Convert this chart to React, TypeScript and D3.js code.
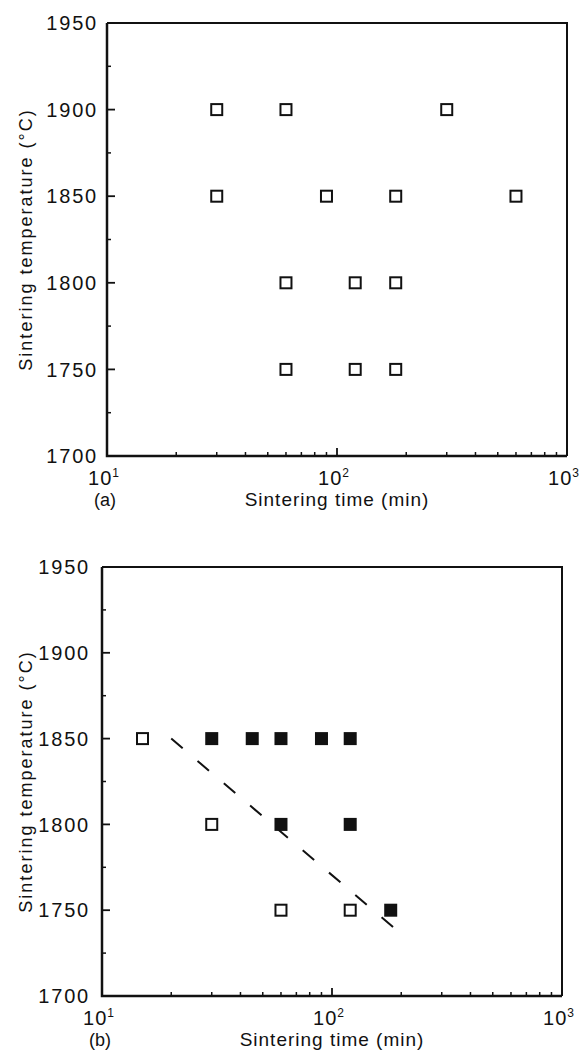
import React from 'react';
import * as d3 from 'd3';

// panel (a): all open squares
const timesA = [30, 60, 300, 30, 90, 180, 600, 60, 120, 180, 60, 120, 180];
const tempsA = [1900, 1900, 1900, 1850, 1850, 1850, 1850, 1800, 1800, 1800, 1750, 1750, 1750];

// panel (b): open + filled squares and a dashed boundary
const openTimesB = [15, 30, 60, 120];
const openTempsB = [1850, 1800, 1750, 1750];
const filledTimesB = [30, 45, 60, 90, 120, 60, 120, 180];
const filledTempsB = [1850, 1850, 1850, 1850, 1850, 1800, 1800, 1750];
const lineTimesB = [20, 185];
const lineTempsB = [1850, 1740];

const yMajor = [1700, 1750, 1800, 1850, 1900, 1950];
const yMinor = [1725, 1775, 1825, 1875, 1925];
const xMajor = [10, 100, 1000];
const xExp = ['1', '2', '3'];

const font = '"Liberation Sans", Arial, sans-serif';

function Panel({ box, label, open, filled, line }) {
    const { left, right, top, bottom, labelGap } = box;
    const x = d3.scaleLog([10, 1000], [left, right]);
    const y = d3.scaleLinear([1700, 1950], [bottom, top]);
    const minor = x.ticks().filter((t) => !xMajor.includes(t));
    const path = line ? d3.line((d, i) => x(line.times[i]), (d) => y(d))(line.temps) : null;
    const cy = (top + bottom) / 2;

    return (
        <g>
            {/* frame */}
            <path d={`M${left},${top}H${right}V${bottom}`} fill="none" stroke="#111" strokeWidth="2" />
            <path d={`M${left},${top}V${bottom}H${right}`} fill="none" stroke="#111" strokeWidth="2.5" />

            {/* y ticks */}
            {yMajor.map((t) => (
                <line key={t} x1={left} x2={left + 8} y1={y(t)} y2={y(t)} stroke="#111" strokeWidth="1.8" />
            ))}
            {yMinor.map((t) => (
                <line key={t} x1={left} x2={left + 4} y1={y(t)} y2={y(t)} stroke="#111" strokeWidth="1.5" />
            ))}
            {yMajor.map((t) => (
                <text key={t} x={left - labelGap} y={y(t)} dy="0.36em" textAnchor="end"
                    fontSize="20" letterSpacing="1.8" fontFamily={font} fill="#111">{t}</text>
            ))}

            {/* x ticks */}
            {xMajor.map((t) => (
                <line key={t} x1={x(t)} x2={x(t)} y1={bottom} y2={bottom - 8} stroke="#111" strokeWidth="1.8" />
            ))}
            {minor.map((t) => (
                <line key={t} x1={x(t)} x2={x(t)} y1={bottom} y2={bottom - 4} stroke="#111" strokeWidth="1.5" />
            ))}
            {xMajor.map((t, i) => (
                <text key={t} x={x(t) - 3} y={bottom + 29} textAnchor="middle"
                    fontSize="20" letterSpacing="1" fontFamily={font} fill="#111">
                    10<tspan fontSize="12" dy="-8">{xExp[i]}</tspan>
                </text>
            ))}

            {/* titles */}
            <text x={(left + right) / 2} y={bottom + 50} textAnchor="middle"
                fontSize="19" letterSpacing="1" fontFamily={font} fill="#111">Sintering time (min)</text>
            <text x={left - 2} y={bottom + 50} textAnchor="middle"
                fontSize="18" fontFamily={font} fill="#111">{label}</text>
            <text transform={`translate(32,${cy}) rotate(-90)`} textAnchor="middle"
                fontSize="18" letterSpacing="2" fontFamily={font} fill="#111">Sintering temperature (°C)</text>

            {path && (
                <path d={path} fill="none" stroke="#111" strokeWidth="2" strokeDasharray="15 19.5" />
            )}

            {open.times.map((t, i) => (
                <rect key={'o' + i} x={x(t) - 5.5} y={y(open.temps[i]) - 5.5} width="11" height="11"
                    fill="#fff" stroke="#111" strokeWidth="2" />
            ))}
            {filled && filled.times.map((t, i) => (
                <rect key={'f' + i} x={x(t) - 6.5} y={y(filled.temps[i]) - 6.5} width="13" height="13"
                    fill="#111" stroke="none" />
            ))}
        </g>
    );
}

export default function App() {
    return (
        <div style={{ position: 'absolute', left: 0, top: 0 }}>
            <svg width={584} height={1059} style={{ display: 'block', background: '#fff' }}>
                <Panel
                    box={{ left: 107, right: 567, top: 23, bottom: 456, labelGap: 9 }}
                    label="(a)"
                    open={{ times: timesA, temps: tempsA }}
                />
                <Panel
                    box={{ left: 102, right: 562, top: 567, bottom: 996, labelGap: 12 }}
                    label="(b)"
                    open={{ times: openTimesB, temps: openTempsB }}
                    filled={{ times: filledTimesB, temps: filledTempsB }}
                    line={{ times: lineTimesB, temps: lineTempsB }}
                />
            </svg>
        </div>
    );
}
